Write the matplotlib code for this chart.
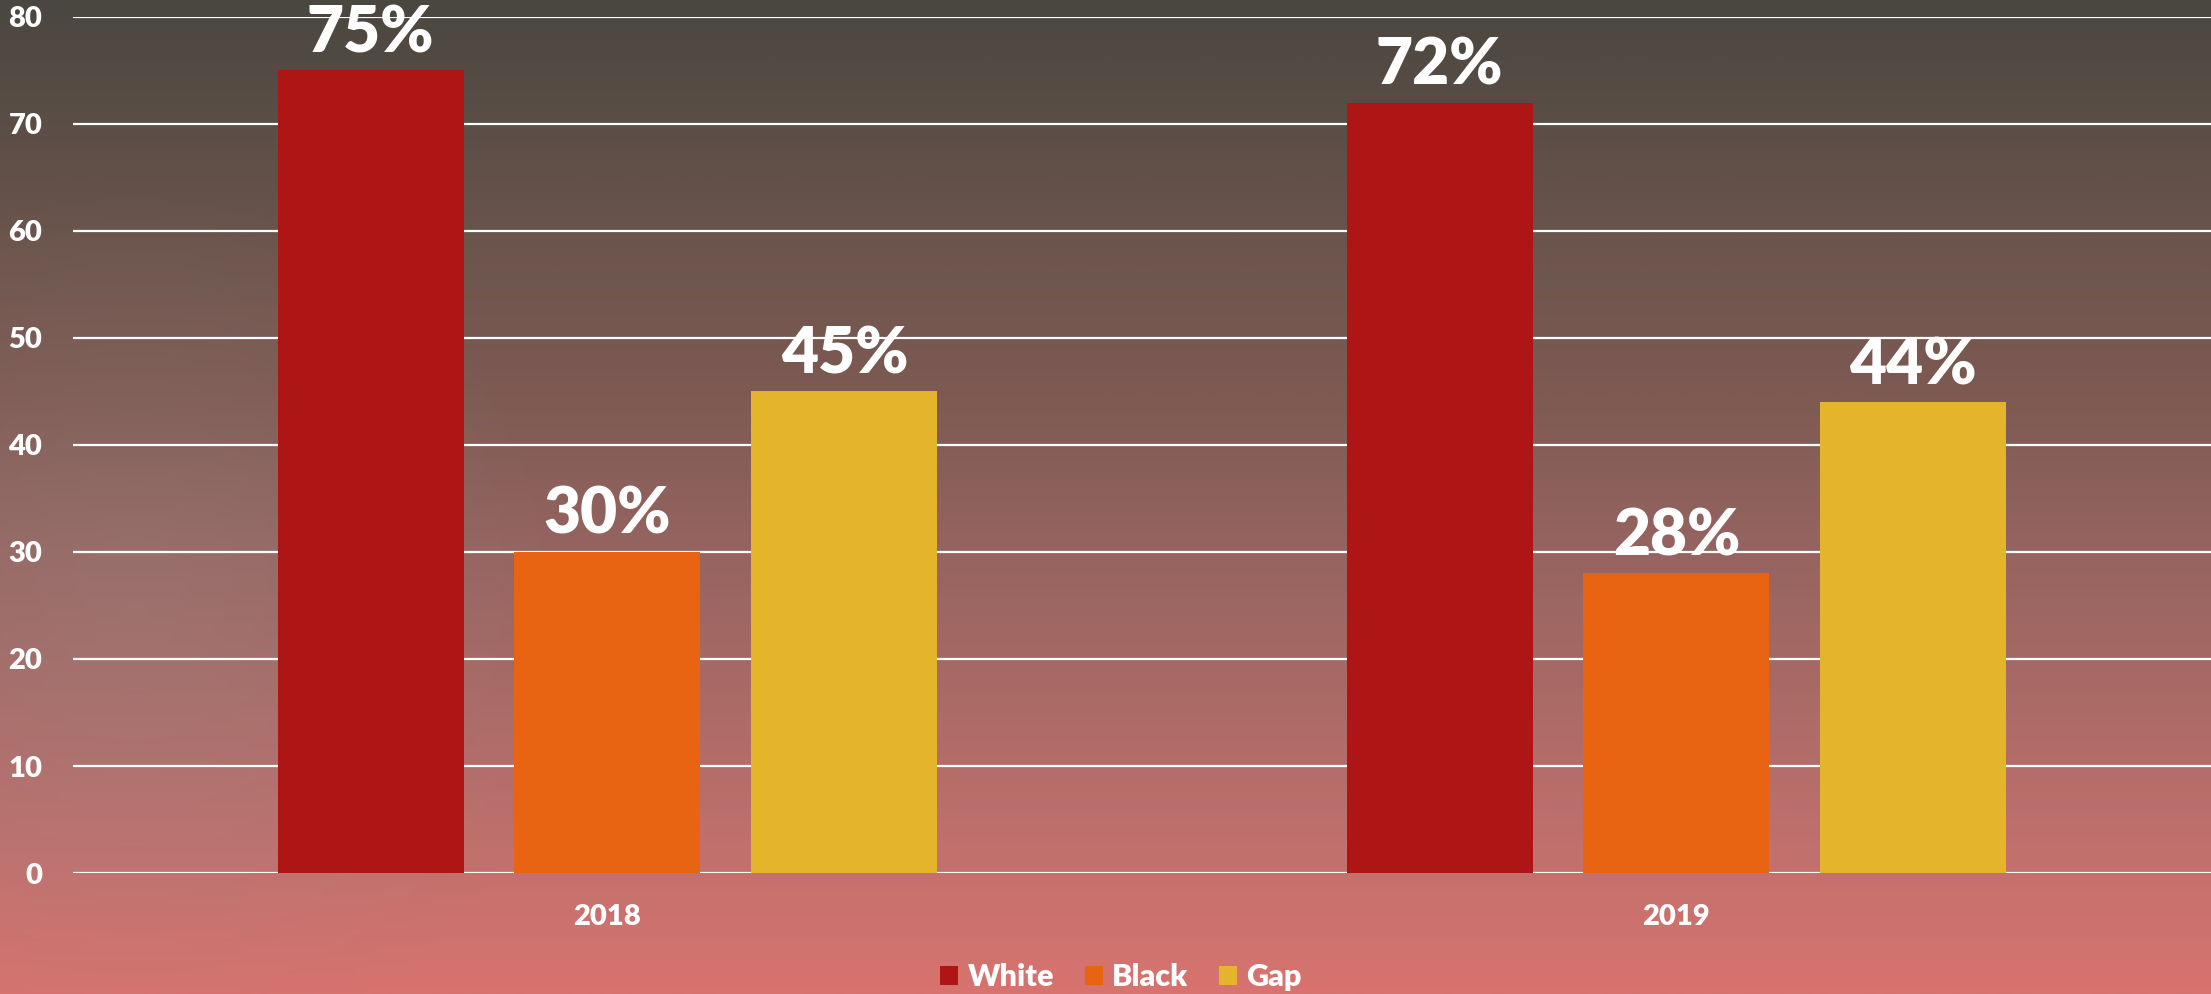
import numpy as np
import matplotlib.pyplot as plt
from matplotlib.colors import LinearSegmentedColormap

years = ['2018', '2019']
series = ['White', 'Black', 'Gap']
white = [75, 72]
black = [30, 28]
gap = [45, 44]
colors = ['#ae1515', '#e86413', '#e4b42a']

plt.rcParams['font.family'] = ['Lato', 'DejaVu Sans']
plt.rcParams['font.weight'] = 'heavy'

fig = plt.figure(figsize=(22.11, 9.94), dpi=100)

# background gradient, top dark taupe -> bottom salmon
bg = fig.add_axes([0, 0, 1, 1], zorder=-10)
bg.axis('off')
stops = [(0.0, '#4a4740'), (0.25, '#6c554d'), (0.4, '#7e5a53'), (0.55, '#956460'),
         (0.7, '#aa6a66'), (0.85, '#c0706d'), (1.0, '#d8736f')]
cmap = LinearSegmentedColormap.from_list('bg', stops)
grad = np.linspace(0, 1, 500).reshape(-1, 1)
bg.imshow(grad, aspect='auto', cmap=cmap, extent=[0, 1, 0, 1], origin='upper')
# soft grey glow on the left
yy, xx = np.mgrid[0:1:300j, 0:1:600j]
d = np.sqrt(((xx - 0.06) * 2.2) ** 2 + (yy - 0.62) ** 2)
glow = np.zeros((300, 600, 4))
glow[..., :3] = np.array([0.62, 0.55, 0.54])
glow[..., 3] = np.clip(1 - d / 0.45, 0, 1) * 0.3
bg.imshow(glow, aspect='auto', extent=[0, 1, 0, 1], origin='upper')
bg.set_xlim(0, 1)
bg.set_ylim(0, 1)

ax = fig.add_axes([0.033, 0.1217, 0.967, 0.8613])
ax.patch.set_alpha(0)

x = np.arange(len(years))
w = 0.174
step = 0.2216
for i, (vals, name) in enumerate(zip([white, black, gap], series)):
    bars = ax.bar(x + (i - 1) * step, vals, w, color=colors[i], label=name, zorder=3)
    for b, v in zip(bars, vals):
        ax.annotate(f'{v}%', (b.get_x() + b.get_width() / 2, v), xytext=(0, 13),
                    textcoords='offset points', ha='center', va='baseline',
                    fontsize=46, color='white', fontweight='heavy', zorder=4)

ax.set_xlim(-0.5, 1.5)
ax.set_ylim(0, 80)
ax.set_yticks(range(0, 81, 10))
ax.set_xticks(x)
ax.set_xticklabels(years)
ax.grid(axis='y', color='white', linewidth=1.6, zorder=1)
ax.tick_params(axis='both', length=0, colors='white', labelsize=21)
ax.tick_params(axis='y', pad=22)
ax.tick_params(axis='x', pad=22)
for lbl in ax.get_xticklabels() + ax.get_yticklabels():
    lbl.set_fontweight('heavy')
for s in ax.spines.values():
    s.set_visible(False)

fig.legend(loc='center', bbox_to_anchor=(0.507, 0.017), ncol=3, frameon=False,
           prop={'size': 22, 'weight': 'heavy'}, labelcolor='white',
           handlelength=0.6, handleheight=0.6, handletextpad=0.3, columnspacing=1.0)

fig.savefig('out.png', dpi=100)
